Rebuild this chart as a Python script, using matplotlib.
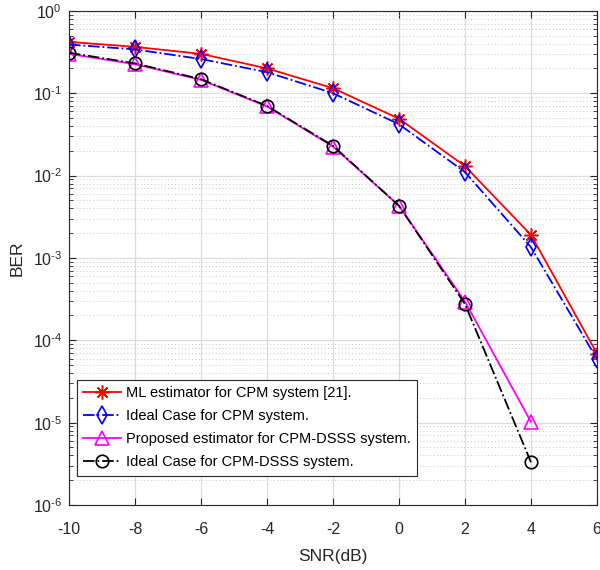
import numpy as np
import matplotlib
matplotlib.use('Agg')
import matplotlib.pyplot as plt
from matplotlib.ticker import LogLocator, NullFormatter, FuncFormatter

plt.rcParams['font.family'] = ['Liberation Sans', 'DejaVu Sans']
plt.rcParams['mathtext.fontset'] = 'custom'
plt.rcParams['mathtext.rm'] = 'Liberation Sans'
plt.rcParams['mathtext.it'] = 'Liberation Sans'

snr = [-10, -8, -6, -4, -2, 0, 2, 4, 6]
ber_ml = [0.42, 0.365, 0.30, 0.20, 0.115, 0.049, 0.013, 0.0019, 6.9e-5]
ber_ideal_cpm = [0.39, 0.34, 0.26, 0.18, 0.10, 0.042, 0.011, 0.00135, 5.9e-5]
snr_dsss = [-10, -8, -6, -4, -2, 0, 2, 4]
ber_prop = [0.30, 0.225, 0.145, 0.069, 0.0225, 0.0043, 2.95e-4, 1.02e-5]
ber_ideal_dsss = [0.31, 0.23, 0.148, 0.07, 0.023, 0.0043, 2.75e-4, 3.3e-6]

labels = ['ML estimator for CPM system [21].',
          'Ideal Case for CPM system.',
          'Proposed estimator for CPM-DSSS system.',
          'Ideal Case for CPM-DSSS system.']

fig = plt.figure(figsize=(6, 5.7), dpi=100)
ax = fig.add_axes([0.115, 0.114, 0.88, 0.867])

ax.semilogy(snr, ber_ml, '-', color='red', marker=(8, 2, 0), ms=10, mew=1.1, lw=1.3, label=labels[0])
ax.semilogy(snr, ber_ideal_cpm, '-.', color='blue', marker='d', ms=9, mfc='none', mew=1.2, lw=1.3, label=labels[1])
ax.semilogy(snr_dsss, ber_prop, '-', color='magenta', marker='^', ms=10, mfc='none', mew=1.2, lw=1.3, label=labels[2])
ax.semilogy(snr_dsss, ber_ideal_dsss, '-.', color='black', marker='o', ms=9, mfc='none', mew=1.2, lw=1.3, label=labels[3])

ax.set_xlim(-10, 6)
ax.set_ylim(1e-6, 1)
ax.set_xticks(range(-10, 7, 2))
ax.set_xticklabels([str(v) for v in range(-10, 7, 2)])
ax.yaxis.set_major_locator(LogLocator(base=10, numticks=10))
ax.yaxis.set_minor_locator(LogLocator(base=10, subs=np.arange(2, 10), numticks=20))
ax.yaxis.set_minor_formatter(NullFormatter())


def pow_label(v, pos):
    e = int(round(np.log10(v)))
    s = str(e).replace('-', '\u2010')
    return '$\\mathregular{10^{' + s + '}}$'


ax.yaxis.set_major_formatter(FuncFormatter(pow_label))

ax.grid(True, which='major', color='#dcdcdc', lw=0.9, ls='-')
ax.grid(True, which='minor', axis='y', color='#c8c8c8', lw=0.7, ls=(0, (1, 2.5)))
ax.set_axisbelow(True)
ax.tick_params(which='both', direction='in', top=True, right=True, labelsize=11.5, colors='#262626')
ax.tick_params(which='major', length=5)
ax.tick_params(which='minor', length=3)
ax.tick_params(axis='x', pad=12)
ax.tick_params(axis='y', pad=5)
for s in ax.spines.values():
    s.set_color('#262626')
    s.set_linewidth(0.8)

ax.set_xlabel('SNR(dB)', fontsize=12.5, color='#262626', labelpad=9)
ax.set_ylabel('BER', fontsize=12.5, color='#262626', labelpad=6)

leg = ax.legend(loc='lower left', bbox_to_anchor=(0.015, 0.059), borderaxespad=0,
                fontsize=10.5, fancybox=False, framealpha=1, edgecolor='#262626',
                handlelength=2.6, borderpad=0.45, labelspacing=0.62, handletextpad=0.3)
leg.get_frame().set_linewidth(0.8)

fig.savefig('out.png', dpi=100)
